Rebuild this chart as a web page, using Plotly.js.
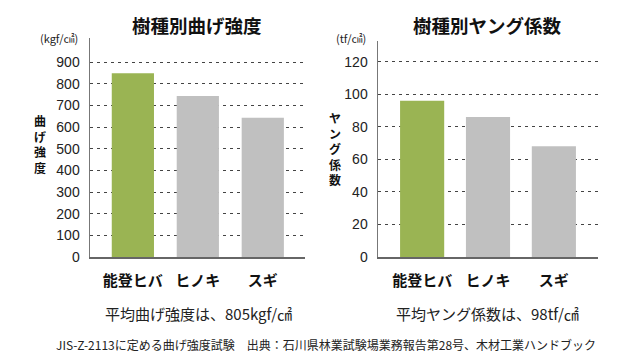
<!DOCTYPE html>
<html><head><meta charset="utf-8">
<script src="https://cdn.plot.ly/plotly-3.0.1.min.js"></script>
<style>html,body{margin:0;padding:0;background:#fff}#chart{width:640px;height:361px}</style>
</head><body><div id="chart"></div>
<script>
const categories = ['能登ヒバ', 'ヒノキ', 'スギ'];
const bendingStrength = [848, 743, 643];
const youngModulus = [96, 86, 68];
const barColors = ['#9AB453', '#C0C0C0', '#C0C0C0'];
const strengthTicks = [0, 100, 200, 300, 400, 500, 600, 700, 800, 900];
const youngTicks = [0, 20, 40, 60, 80, 100, 120];
const leftTitle = '樹種別曲げ強度';
const rightTitle = '樹種別ヤング係数';
const leftUnit = '(kgf/㎠)';
const rightUnit = '(tf/㎠)';
const leftYLabel = '曲げ強度';
const rightYLabel = 'ヤング係数';
const leftNote = '平均曲げ強度は、805kgf/㎠';
const rightNote = '平均ヤング係数は、98tf/㎠';
const sourceNote = 'JIS-Z-2113に定める曲げ強度試験　出典：石川県林業試験場業務報告第28号、木材工業ハンドブック';

const W = 640, H = 361;
const px = x => x / W, py = y => 1 - y / H;
const JP = '"Noto Sans CJK JP", "Noto Sans", sans-serif';
const NUM = '"Liberation Sans", Arial, sans-serif';

const traces = [
  {type:'bar', x:[0,1,2], y:bendingStrength, marker:{color:barColors}, width:0.65, xaxis:'x', yaxis:'y', hoverinfo:'none'},
  {type:'bar', x:[0,1,2], y:youngModulus, marker:{color:barColors}, width:0.67, xaxis:'x2', yaxis:'y2', hoverinfo:'none'}
];

const catTicktext = categories.map(c => '<b>' + c + '</b>');
const xCommon = {tickmode:'array', tickvals:[0,1,2], ticktext:catTicktext, ticks:'', showgrid:false, zeroline:false,
  showline:true, linecolor:'#666', linewidth:1.5, tickfont:{family:JP, size:15, color:'#111'}, ticklabelstandoff:9, fixedrange:true};
const yCommon = {tickmode:'array', ticks:'', showgrid:true, gridcolor:'#444', griddash:'3px,4px', gridwidth:1, zeroline:false,
  showline:true, linecolor:'#777', linewidth:1.5, tickfont:{family:NUM, size:14, color:'#222'}, ticklabelstandoff:6, fixedrange:true};

const layout = {
  width:W, height:H, margin:{l:0,r:0,t:0,b:0}, paper_bgcolor:'#fff', plot_bgcolor:'rgba(0,0,0,0)',
  showlegend:false, bargap:0.3,
  xaxis: Object.assign({}, xCommon, {domain:[px(90), px(305)], range:[-0.66, 2.65], anchor:'y'}),
  yaxis: Object.assign({}, yCommon, {domain:[py(257), py(38)], range:[0, 900*219/195], tickvals:strengthTicks, anchor:'x'}),
  xaxis2: Object.assign({}, xCommon, {domain:[px(378), px(598)], range:[-0.67, 2.67], anchor:'y2'}),
  yaxis2: Object.assign({}, yCommon, {domain:[py(257), py(41)], range:[0, 120*216/195.3], tickvals:youngTicks, anchor:'x2'}),
  annotations: []
};

const ann = (text, x, y, size, opts) => Object.assign({text:text, x:px(x), y:py(y), xref:'paper', yref:'paper',
  showarrow:false, xanchor:'center', yanchor:'middle', font:{family:JP, size:size, color:'#111'}}, opts || {});
const vertical = s => '<b>' + s.split('').join('<br>') + '</b>';

layout.annotations.push(ann('<b>' + leftTitle + '</b>', 197, 25, 18.5));
layout.annotations.push(ann('<b>' + rightTitle + '</b>', 487, 25, 18.5));
layout.annotations.push(ann(leftUnit, 59, 38, 11, {font:{family:JP, size:11, color:'#222'}}));
layout.annotations.push(ann(rightUnit, 351, 38, 11, {font:{family:JP, size:11, color:'#222'}}));
layout.annotations.push(ann(vertical(leftYLabel), 40, 144, 12, {borderpad:0}));
layout.annotations.push(ann(vertical(rightYLabel), 335, 148, 12, {borderpad:0}));
layout.annotations.push(ann(leftNote, 198, 313, 15, {font:{family:JP, size:15, color:'#222'}}));
layout.annotations.push(ann(rightNote, 487, 313, 15, {font:{family:JP, size:15, color:'#222'}}));
layout.annotations.push(ann(sourceNote, 326, 344, 12, {font:{family:JP, size:12, color:'#222'}}));

Plotly.newPlot('chart', traces, layout, {staticPlot:true, displayModeBar:false});
</script></body></html>
